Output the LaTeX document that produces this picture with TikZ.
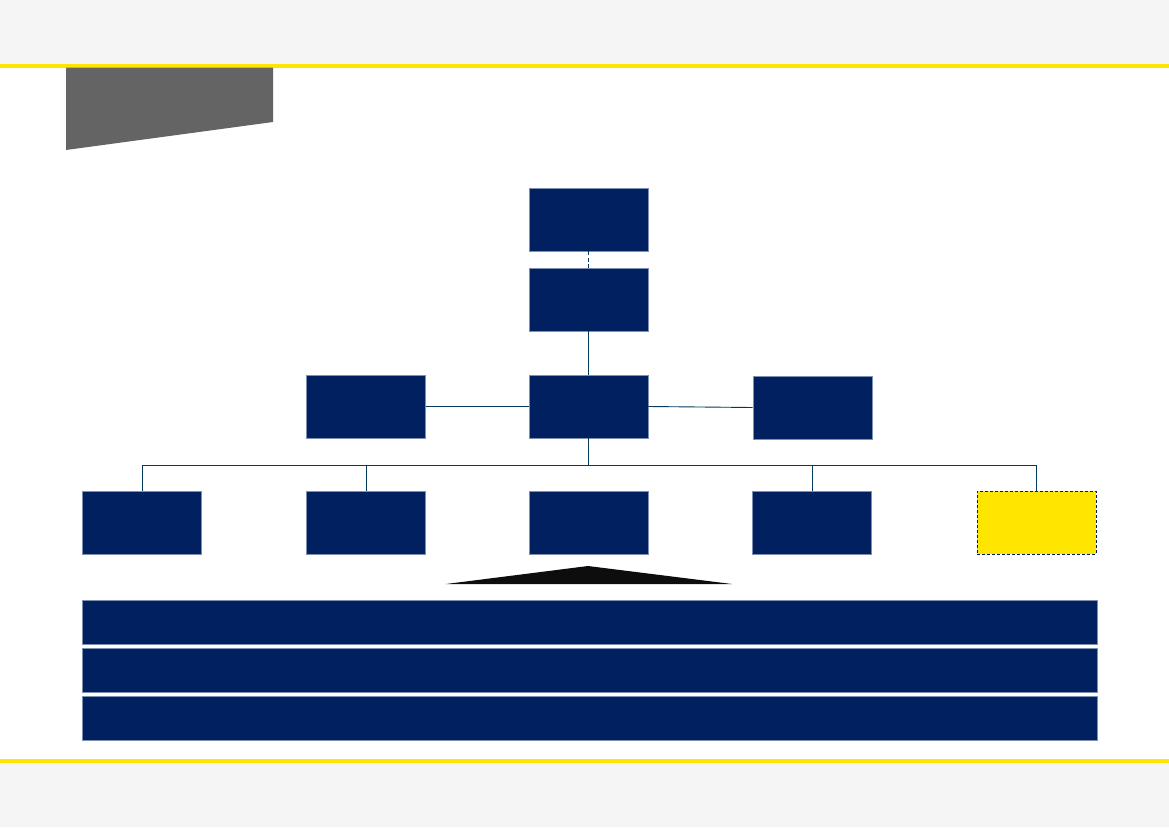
\documentclass[tikz,border=0pt]{standalone}
\usepackage{tikz}
\usetikzlibrary{positioning, calc}
\definecolor{navy}{HTML}{002060}
\definecolor{boxedge}{HTML}{7F8FB4}
\definecolor{linkcol}{HTML}{003A5D}
\definecolor{ey}{HTML}{FFE600}
\definecolor{band}{HTML}{F5F5F5}
\definecolor{tab}{HTML}{646464}
\begin{document}
\begin{tikzpicture}[x=1pt, y=-1pt,
    unit/.style={rectangle, fill=navy, draw=boxedge, line width=0.6pt,
      minimum width=119pt, minimum height=63pt, inner sep=0pt},
    openunit/.style={unit, fill=ey, draw=navy, line width=0.8pt, dash pattern=on 3pt off 2pt},
    bar/.style={rectangle, fill=navy, draw=boxedge, line width=0.6pt,
      minimum width=1015pt, minimum height=44pt, inner sep=0pt},
    link/.style={draw=linkcol, line width=0.9pt}]
  \useasboundingbox (0,0) rectangle (1169,827);
  % page frame
  \fill[white] (0,0) rectangle (1169,827);
  \fill[band] (0,0) rectangle (1169,64);
  \fill[band] (0,761) rectangle (1169,827);
  \fill[ey] (0,64) rectangle (1169,67.5);
  \fill[ey] (0,759) rectangle (1169,763);
  \fill[tab] (66,67.5) -- (273,67.5) -- (273,122) -- (66,150) -- cycle;

  % hierarchy
  \node[unit] (top) at (588.5,219.5) {};
  \node[unit] (head) at (588.5,299.5) {};
  \node[unit] (core) at (588.5,406.5) {};
  \node[unit] (west) at (366,406.5) {};
  \node[unit] (east) at (812.5,407.5) {};

  \node[unit] (b1) at (142,522.5) {};
  \node[unit] (b2) at (366,522.5) {};
  \node[unit] (b3) at (588.5,522.5) {};
  \node[unit] (b4) at (812,522.5) {};
  \node[openunit] (b5) at (1036.5,522.5) {};

  \coordinate (bus) at (588.5,465);

  \draw[link, line width=1.2pt, dash pattern=on 4pt off 2.5pt] (top) -- (head);
  \draw[link] (head) -- (core);
  \draw[link] (west) -- (core);
  \draw[link] (core.east) -- (east.west);
  \draw[link] (core) -- (bus);
  \foreach \b in {b1,b2,b4,b5}
    \draw[link] (bus) -| (\b.north);

  % base
  \fill[black!95] (446,584) -- (588,566) -- (732,584) -- cycle;
  \node[bar] (r1) at (589.5,622) {};
  \node[bar] (r2) at (589.5,670) {};
  \node[bar] (r3) at (589.5,718) {};
\end{tikzpicture}
\end{document}
